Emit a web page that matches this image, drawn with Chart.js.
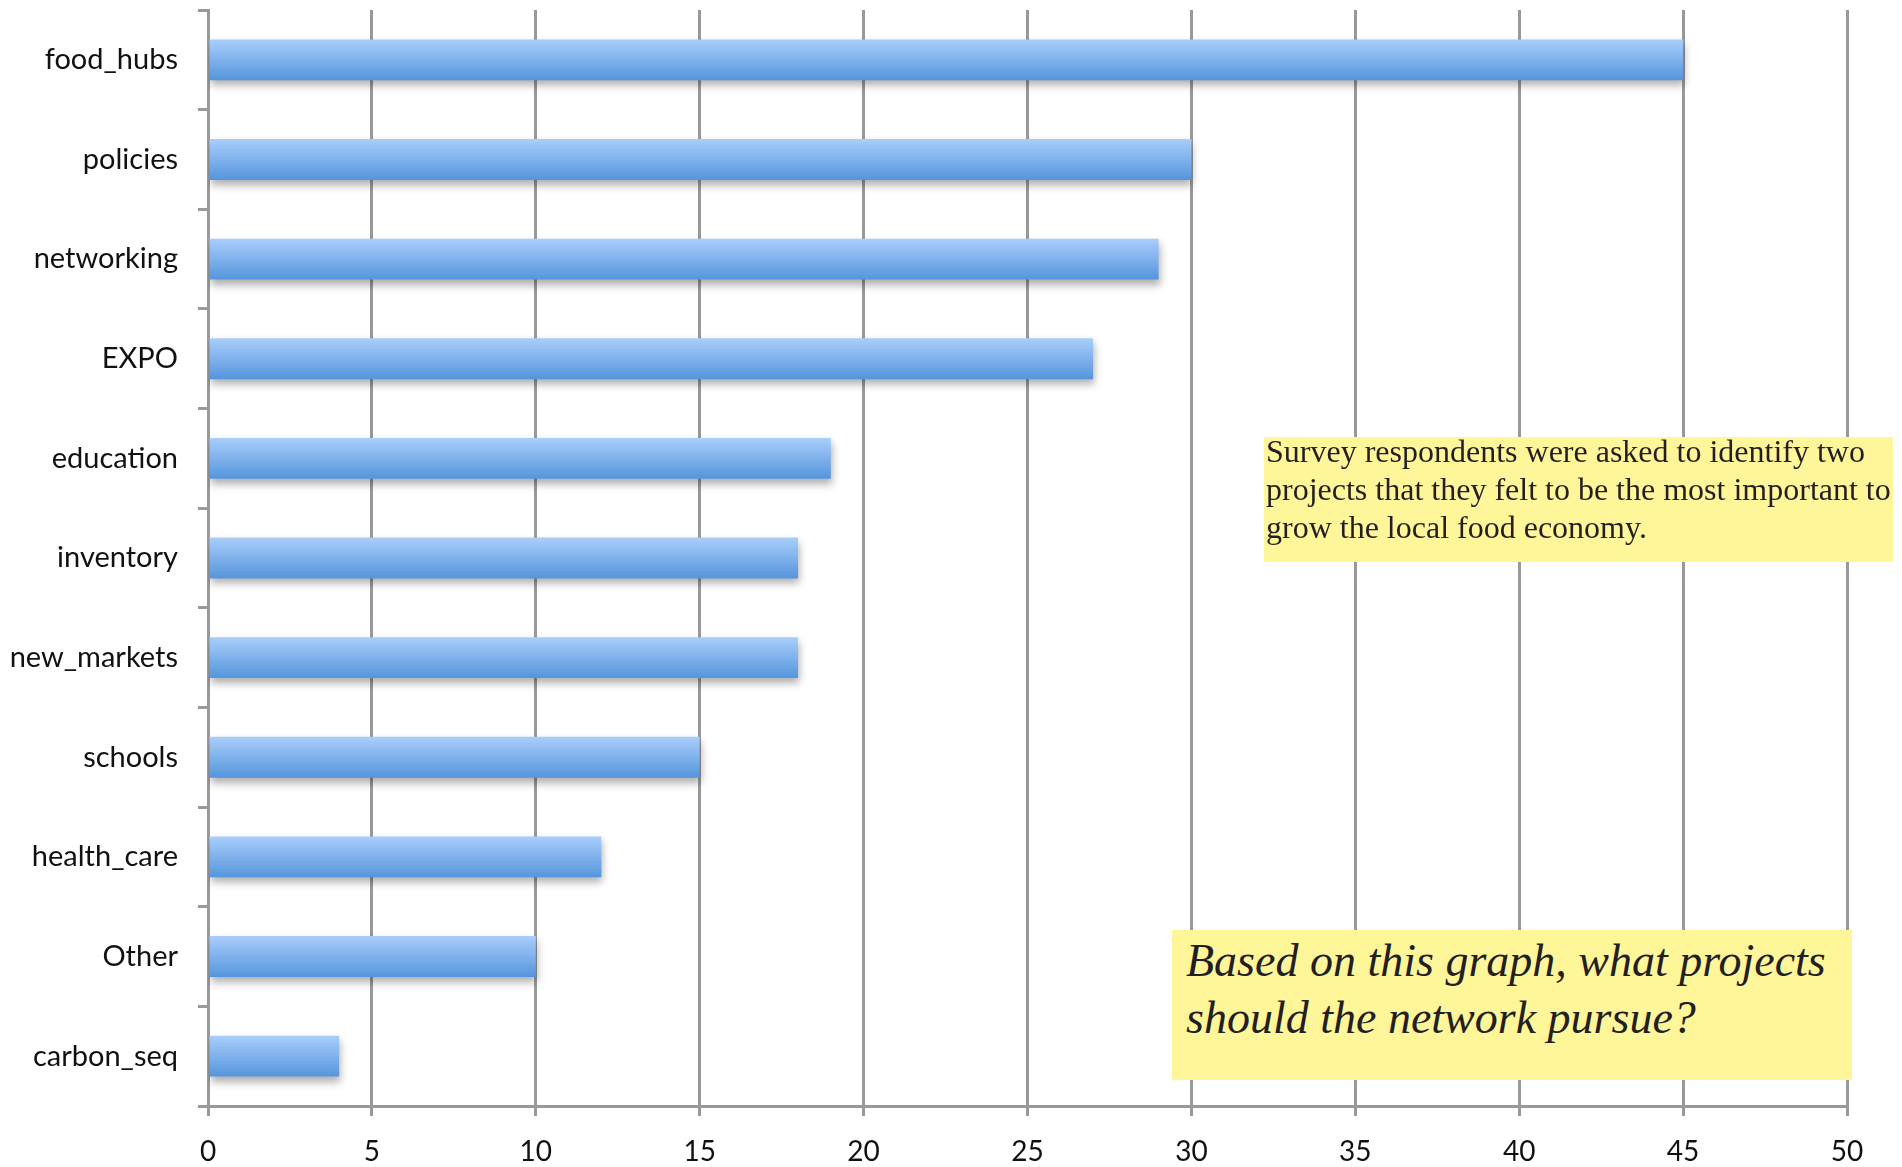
<!DOCTYPE html>
<html>
<head>
<meta charset="utf-8">
<script src="https://cdn.jsdelivr.net/npm/chart.js@4/dist/chart.umd.min.js"></script>
<style>
  body { margin: 0; background: #fff; }
  #wrap { position: relative; width: 1902px; height: 1167px; }
  .note {
    position: absolute;
    background: #fff599;
    color: #231f20;
    font-family: "Liberation Serif", "DejaVu Serif", serif;
  }
  #note1 { left: 1264px; top: 437px; width: 629px; height: 125px; font-size: 32px; line-height: 38px; }
  #note1 div { margin-top: -5px; padding-left: 2px; white-space: nowrap; }
  #note2 { left: 1172px; top: 930px; width: 680px; height: 150px; font-size: 46px; line-height: 57px; font-style: italic; }
  #note2 div { padding: 2px 0 0 14px; white-space: nowrap; }
</style>
</head>
<body>
<div id="wrap">
  <canvas id="mycanvas" width="1902" height="1167"></canvas>
  <div class="note" id="note1"><div>Survey respondents were asked to identify two<br>projects that they felt to be the most important to<br>grow the local food economy.</div></div>
  <div class="note" id="note2"><div>Based on this graph, what projects<br>should the network pursue?</div></div>
</div>
<script>
var projects = ['food_hubs', 'policies', 'networking', 'EXPO', 'education', 'inventory',
                'new_markets', 'schools', 'health_care', 'Other', 'carbon_seq'];
var votes = [45, 30, 29, 27, 19, 18, 18, 15, 12, 10, 4];
var xTicks = [0, 5, 10, 15, 20, 25, 30, 35, 40, 45, 50];

var BAR_PCT = 0.41;
var gridGray = '#999999';

// vertical gradient per bar, light blue on top
function barFill(context) {
    var chart = context.chart;
    if (!chart.chartArea) return '#7cb0ec';
    var yScale = chart.scales.y;
    var y = yScale.getPixelForValue(context.dataIndex);
    var half = yScale.height / projects.length * BAR_PCT / 2;
    var g = chart.ctx.createLinearGradient(0, y - half, 0, y + half);
    g.addColorStop(0, '#a9cefb');
    g.addColorStop(1, '#5595dc');
    return g;
}

var barShadow = {
    id: 'barShadow',
    beforeDatasetDraw: function(chart) {
        var ctx = chart.ctx;
        ctx.save();
        ctx.shadowColor = 'rgba(0,0,0,0.32)';
        ctx.shadowBlur = 8;
        ctx.shadowOffsetY = 5;
        ctx.shadowOffsetX = 1;
    },
    afterDatasetDraw: function(chart) {
        chart.ctx.restore();
    }
};

var ctx = document.getElementById('mycanvas');
var barGraph = new Chart(ctx, {
    type: 'bar',
    data: {
        labels: projects,
        datasets: [{
            label: 'Votes',
            data: votes,
            backgroundColor: barFill,
            borderWidth: 0,
            barPercentage: BAR_PCT,
            categoryPercentage: 1
        }]
    },
    options: {
        indexAxis: 'y',
        responsive: false,
        animation: false,
        events: [],
        layout: { padding: { top: 10, right: 55, left: 8, bottom: 0 } },
        plugins: {
            legend: { display: false },
            tooltip: { enabled: false }
        },
        scales: {
            x: {
                min: 0,
                max: 50,
                afterBuildTicks: function(scale) {
                    scale.ticks = xTicks.map(function(v) { return { value: v }; });
                },
                afterFit: function(scale) { scale.height = 61; },
                grid: {
                    color: gridGray,
                    lineWidth: 3,
                    drawTicks: true,
                    tickLength: 10
                },
                border: { color: gridGray, width: 3 },
                ticks: {
                    color: '#111',
                    padding: 19,
                    font: { family: 'Lato', size: 28 }
                }
            },
            y: {
                afterFit: function(scale) {
                    scale.width = 200;
                    scale.paddingTop = 0;
                    scale.paddingBottom = 0;
                },
                grid: {
                    drawOnChartArea: false,
                    drawTicks: true,
                    tickLength: 10,
                    color: gridGray,
                    lineWidth: 3,
                    offset: true
                },
                border: { color: gridGray, width: 3 },
                ticks: {
                    color: '#111',
                    padding: 20,
                    font: { family: 'Lato', size: 29 }
                }
            }
        }
    },
    plugins: [barShadow]
});
</script>
</body>
</html>
